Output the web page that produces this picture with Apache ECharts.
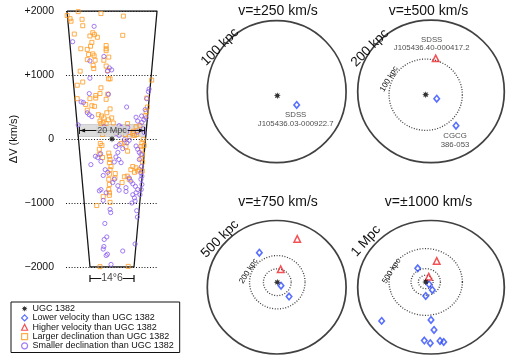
<!DOCTYPE html>
<html><head><meta charset="utf-8">
<script src="https://cdn.jsdelivr.net/npm/echarts@6/dist/echarts.min.js"></script>
<style>html,body{margin:0;padding:0;background:#fff}#c{width:509px;height:360px}</style>
</head><body><div id="c"></div>
<script>
// ---------------- DATA ----------------
const yTicks = [-2000, -1000, 0, 1000, 2000];
const yTickLabels = ['−2000', '−1000', '0', '+1000', '+2000'];
// wedge outline (x in Mpc, ΔV in km/s)
const wedgeX = [-13.85, 13.85, 6.77, -6.77, -13.85];
const wedgeV = [2000, 2000, -2000, -2000, 2000];
const wedgeUGC = [0, 0];
// larger declination than UGC 1382 (orange squares) [x Mpc, ΔV km/s]
const largerDec = [[-13.8,1930],[-12.9,1880],[-12.6,1840],[-10.4,1990],[-3.4,1960],[3.5,1920],[-9.2,1870],[-9.0,1770],[-11.6,1640],[-5.9,1660],[-6.8,1610],[-5.4,1630],[-4.5,1590],[3.3,1620],[-6.2,1510],[-6.6,1450],[-1.8,1460],[-1.8,1410],[-1.8,1380],[-9.6,1410],[-7.6,1400],[-7.2,1320],[-5.9,1330],[-5.5,1300],[-1.0,1280],[-7.6,1240],[-5.2,1230],[-2.5,1230],[-5.8,1150],[-5.6,1100],[-1.8,1140],[-1.3,1070],[-9.8,1060],[-1.1,940],[-0.6,940],[-9.0,890],[-10.7,840],[12.2,920],[-3.4,800],[-3.7,710],[-5.0,680],[-5.0,640],[-1.3,700],[-10.7,630],[-6.8,630],[-1.8,620],[-8.1,540],[-6.2,520],[-5.4,510],[-0.6,470],[-7.6,450],[10.7,640],[10.9,500],[10.5,430],[10.2,360],[-4.2,380],[-3.2,360],[-2.5,330],[-1.6,410],[-1.1,300],[-0.1,330],[-3.7,280],[0.4,250],[-2.7,260],[-1.8,240],[6.6,120],[7.6,70],[-3.4,240],[4.8,240],[7.4,190],[8.6,210],[4.1,70],[5.3,40],[6.4,90],[6.9,55],[9.6,-10],[9.2,-60],[9.9,-100],[8.9,-120],[-3.6,-70],[-3.1,-100],[-3.9,-160],[-2.9,70],[1.2,100],[3.8,-50],[4.3,-120],[4.8,-190],[2.8,-70],[-1.0,-220],[-0.8,-270],[-0.6,-320],[-0.8,-370],[-0.3,-430],[-0.6,-480],[-0.8,-550],[-1.0,-630],[-0.8,-710],[-1.0,-790],[-0.8,-840],[-3.9,-240],[-2.9,-290],[6.4,-430],[7.4,-450],[7.9,-500],[8.4,-480],[6.9,-520],[5.8,-480],[1.0,-540],[3.8,-590],[3.1,-680],[-0.8,-880],[-2.7,-900],[8.9,-310],[9.4,-360],[-4.7,-1040],[-0.6,-990],[-3.7,-1995],[5.0,-1990],[4.7,-580],[5.3,-630],[0.9,-610],[9.3,-500],[9.1,-160],[9.4,-240]];
// smaller declination than UGC 1382 (purple circles)
const smallerDec = [[-5.5,1760],[-12.1,1520],[-0.8,1110],[-0.1,1080],[-1.4,1060],[-2.5,1290],[-6.8,1220],[-6.8,950],[11.4,780],[11.2,740],[-7.0,710],[-1.1,700],[-9.5,580],[-8.8,570],[10.7,630],[4.5,500],[10.2,460],[-7.6,410],[-7.0,380],[-6.2,350],[7.4,340],[9.1,360],[9.8,300],[10.5,330],[-10.4,220],[4.8,180],[7.8,110],[9.6,160],[9.9,100],[7.9,280],[9.2,260],[-2.4,190],[2.2,210],[2.8,180],[1.2,90],[2.2,55],[4.5,110],[3.8,-10],[4.6,-60],[5.3,-20],[2.2,-90],[1.2,-120],[3.3,-150],[7.4,-110],[7.9,-160],[8.4,-210],[8.9,-240],[-5.1,-270],[-4.4,-290],[-6.5,-400],[-3.4,-350],[1.8,-210],[1.2,-280],[2.1,-320],[0.7,-360],[2.8,-370],[-2.1,-480],[-1.3,-520],[-2.7,-570],[5.3,-610],[5.8,-660],[6.4,-700],[7.2,-740],[7.9,-790],[-3.4,-790],[-3.9,-810],[1.8,-730],[2.2,-800],[0.7,-630],[0.2,-680],[8.9,-530],[8.9,-630],[9.2,-710],[6.4,-870],[6.9,-920],[7.4,-840],[4.3,-820],[-1.8,-840],[-2.7,-960],[-0.6,-1100],[-0.4,-1150],[-2.2,-1320],[-1.6,-1530],[-2.4,-1570],[-2.5,-1680],[-2.7,-1720],[-1.4,-1800],[-1.8,-1820],[-0.3,-1960],[7.1,-1640],[3.3,-1750],[7.6,-1120],[7.8,-1220],[7.1,-970],[6.1,-1000],[4.3,-760],[9.0,-790],[8.6,-870],[-3.5,-230],[8.4,-320],[9.1,-430],[9.2,-580]];
// scale bars in the wedge
const scaleMpc = 20, scaleV = 133, scaleBoxV = [39, 227];
const angBarX = 6.77, angBarV = -2180, angGapX = 3.3, angLabel = '14°6';

// ---- right-hand panels (offsets in kpc from panel centre) ----
const panelTitles = ['v=±250 km/s', 'v=±500 km/s', 'v=±750 km/s', 'v=±1000 km/s'];
const panelRadius = [100, 200, 500, 1000];
const panelRadiusLabel = ['100 kpc', '200 kpc', '500 kpc', '1 Mpc'];
const ringKpc = [[], [100], [100, 200], [100, 200, 500]];
const ringLabel = ['', '100 kpc', '200 kpc', '500 kpc'];
const ugcPos = [[0.9,-5.6], [-14.5,-9.3], [4.3,37.4], [-72,79]];
const lowerVel = [
  [[28.8,-18.7]],
  [[15.6,-20.5],[68.2,-96.2]],
  [[-125,259],[31,12],[89,-70]],
  [[-181,284],[-27,45],[18,-40],[-72,-130],[0,-490],[41,-639],[-673,-504],[-91,-799],[-10,-838],[123,-804],[173,-819]]
];
const lowerVelNames = [['SDSS\nJ105436.03-000922.7'], ['', 'CGCG\n386-053'], [], []];
const higherVel = [[], [[12.8,92.8]], [[148,362],[29,135]], [[78,394],[-31,159]]];
const higherVelNames = [[], ['SDSS\nJ105436.40-000417.2'], [], []];
const legendNames = ['UGC 1382', 'Lower velocity than UGC 1382', 'Higher velocity than UGC 1382', 'Larger declination than UGC 1382', 'Smaller declination than UGC 1382'];

// ---------------- STYLE / LAYOUT ----------------
const FONT = '"Liberation Sans", Arial, Helvetica, sans-serif';
const ORANGE = '#ff9a1f', PURPLE = '#8a5cf2', BLUE = '#2f4cff', RED = '#f0262a', INK = '#111';
const STAR = 'path://M20,10 L14.62,11.91 L17.07,17.07 L11.91,14.62 L10,20 L8.09,14.62 L2.93,17.07 L5.38,11.91 L0,10 L5.38,8.09 L2.93,2.93 L8.09,5.38 L10,0 L11.91,5.38 L17.07,2.93 L14.62,8.09 Z';
const ARROW_L = 'path://M0,0 L1.2,0 L1.2,10 L0,10 Z M1.2,5 L8,2 L8,8 Z';
const ARROW_R = 'path://M8,0 L6.8,0 L6.8,10 L8,10 Z M6.8,5 L0,2 L0,8 Z';
const wedgeBox = {left: 66, top: 11, width: 92, height: 256};
const panelBox = [
  {left: 207.3, top: 20.7, width: 138.8, height: 142},
  {left: 357.7, top: 20.1, width: 146.6, height: 142.6},
  {left: 207.3, top: 220.5, width: 138.8, height: 133.5},
  {left: 357.7, top: 220.5, width: 146.6, height: 133.5}
];
const titlePos = [[278, 11], [428.5, 11], [278, 202], [428.5, 202]];
const bigLabelPos = [[220, 47, 45], [370, 48, 45], [220, 239, 45], [366, 241, 48]];
const smallLabelPos = [null, [389, 79, 59], [248.5, 271, 58], [391.5, 271, 58]];

const grid = [Object.assign({}, wedgeBox)].concat(panelBox.map(b => Object.assign({}, b)));
const xAxis = [{gridIndex: 0, type: 'value', min: -14.15, max: 14.15, show: false}];
const yAxis = [{
  gridIndex: 0, type: 'value', min: -2000, max: 2000, interval: 1000,
  name: 'ΔV (km/s)', nameLocation: 'middle', nameGap: 47, nameRotate: 90,
  nameTextStyle: {fontFamily: FONT, fontSize: 11, color: INK},
  axisLine: {show: false}, axisTick: {show: false},
  axisLabel: {margin: 12, fontFamily: FONT, fontSize: 10.5, color: INK,
    formatter: v => yTickLabels[yTicks.indexOf(v)]},
  splitLine: {show: true, lineStyle: {color: '#111', width: 1.1, type: [1, 1.8]}}
}];
panelRadius.forEach((R, i) => {
  xAxis.push({gridIndex: i + 1, type: 'value', min: -R, max: R, show: false});
  yAxis.push({gridIndex: i + 1, type: 'value', min: -R, max: R, show: false});
});

const hollow = (c, w) => ({color: 'rgba(0,0,0,0)', borderColor: c, borderWidth: w});
const series = [];
// wedge
series.push({type: 'line', name: 'wedge', xAxisIndex: 0, yAxisIndex: 0,
  data: wedgeX.map((x, i) => [x, wedgeV[i]]), symbol: 'none', silent: true,
  lineStyle: {color: '#181818', width: 1.3}, z: 3});
series.push({type: 'scatter', name: legendNames[3], xAxisIndex: 0, yAxisIndex: 0, data: largerDec,
  symbol: 'rect', symbolSize: 4, itemStyle: hollow(ORANGE, 1), z: 4});
series.push({type: 'scatter', name: legendNames[4], xAxisIndex: 0, yAxisIndex: 0, data: smallerDec,
  symbol: 'circle', symbolSize: 4.2, itemStyle: hollow(PURPLE, 1), z: 4});
series.push({type: 'scatter', name: legendNames[0], xAxisIndex: 0, yAxisIndex: 0, data: [wedgeUGC],
  symbol: STAR, symbolSize: 7, itemStyle: {color: '#000'}, z: 6});
// 20 Mpc scale bar
series.push({type: 'line', name: 'scale', xAxisIndex: 0, yAxisIndex: 0, clip: false, silent: true,
  data: [{value: [-scaleMpc / 2, scaleV], symbol: ARROW_L, symbolOffset: [2.6, 0]},
         {value: [scaleMpc / 2, scaleV], symbol: ARROW_R, symbolOffset: [-2.6, 0]}],
  symbolSize: [6, 7], lineStyle: {color: INK, width: 1}, itemStyle: {color: INK}, z: 8,
  markArea: {silent: true, itemStyle: {color: 'rgba(212,212,212,0.78)', borderColor: 'rgba(170,170,170,0.8)', borderWidth: 0.6},
    data: [[{coord: [-10.6, scaleBoxV[0]]}, {coord: [10.6, scaleBoxV[1]]}]]}});
series.push({type: 'scatter', name: 'scaleLabel', xAxisIndex: 0, yAxisIndex: 0, data: [[0, scaleV]],
  symbolSize: 1, itemStyle: {color: 'rgba(0,0,0,0)'}, silent: true, z: 9,
  label: {show: true, position: 'inside', formatter: scaleMpc + ' Mpc', fontFamily: FONT, fontSize: 9, color: '#222',
    backgroundColor: 'rgb(214,214,214)', padding: [0, 1]}});
// angular bar
[[-angBarX, -angGapX], [angGapX, angBarX]].forEach((seg, k) => {
  series.push({type: 'line', name: 'ang' + k, xAxisIndex: 0, yAxisIndex: 0, clip: false, silent: true,
    data: [{value: [seg[0], angBarV], symbol: k === 0 ? 'rect' : 'none'},
           {value: [seg[1], angBarV], symbol: k === 1 ? 'rect' : 'none'}],
    symbolSize: [1.2, 7], lineStyle: {color: INK, width: 1}, itemStyle: {color: INK}});
});
series.push({type: 'scatter', name: 'angLabel', xAxisIndex: 0, yAxisIndex: 0, data: [[0, angBarV]], clip: false,
  symbolSize: 1, itemStyle: {color: 'rgba(0,0,0,0)'}, silent: true,
  label: {show: true, position: 'inside', formatter: angLabel, fontFamily: FONT, fontSize: 10.5, color: INK}});

// panels
const galLabel = (pos, off) => ({show: true, position: pos, distance: 2, offset: off || [0, 0],
  fontFamily: FONT, fontSize: 7.8, lineHeight: 8.5, color: '#1a1a1a', align: 'center'});
panelRadius.forEach((R, p) => {
  const b = panelBox[p], ax = p + 1;
  series.push({type: 'scatter', name: 'outer' + p, xAxisIndex: ax, yAxisIndex: ax, data: [[0, 0]], silent: true,
    symbol: 'circle', symbolSize: [b.width, b.height], itemStyle: hollow('#111', 1.7), z: 2});
  ringKpc[p].forEach((k, j) => {
    series.push({type: 'scatter', name: 'ring' + p + '_' + j, xAxisIndex: ax, yAxisIndex: ax, data: [ugcPos[p]], silent: true,
      symbol: 'circle', symbolSize: [b.width * k / R, b.height * k / R],
      itemStyle: {color: 'rgba(0,0,0,0)', borderColor: '#111', borderWidth: 1.3, borderType: [1, 1.6]}, z: 2});
  });
  series.push({type: 'scatter', name: legendNames[1], xAxisIndex: ax, yAxisIndex: ax,
    data: lowerVel[p].map((d, i) => {
      const n = (lowerVelNames[p][i] || '');
      return n ? {value: d, label: galLabel('bottom', [-1, 0]), name: n} : {value: d};
    }),
    symbol: 'diamond', symbolSize: [5.5, 6.5], itemStyle: hollow(BLUE, 1.6), z: 5,
    label: {show: false, formatter: '{b}'}});
  series.push({type: 'scatter', name: legendNames[2], xAxisIndex: ax, yAxisIndex: ax,
    data: higherVel[p].map((d, i) => {
      const n = (higherVelNames[p][i] || '');
      return n ? {value: d, label: galLabel('top', [-4, 0]), name: n} : {value: d};
    }),
    symbol: 'triangle', symbolSize: 6.5, itemStyle: hollow(RED, 1.5), z: 5,
    label: {show: false, formatter: '{b}'}});
  series.push({type: 'scatter', name: legendNames[0], xAxisIndex: ax, yAxisIndex: ax, data: [ugcPos[p]],
    symbol: STAR, symbolSize: 7, itemStyle: {color: '#000'}, z: 6});
});

// text annotations
const graphic = [];
panelTitles.forEach((t, p) => {
  graphic.push({type: 'text', x: titlePos[p][0], y: titlePos[p][1], silent: true,
    style: {text: t, font: '14px ' + FONT, fill: INK, textAlign: 'center', textVerticalAlign: 'middle'}});
  const bl = bigLabelPos[p];
  graphic.push({type: 'text', x: bl[0], y: bl[1], rotation: bl[2] * Math.PI / 180, silent: true,
    style: {text: panelRadiusLabel[p], font: '13.5px ' + FONT, fill: INK, textAlign: 'center', textVerticalAlign: 'middle'}});
  const sl = smallLabelPos[p];
  if (sl) graphic.push({type: 'text', x: sl[0], y: sl[1], rotation: sl[2] * Math.PI / 180, silent: true,
    style: {text: ringLabel[p], font: '8px ' + FONT, fill: INK, textAlign: 'center', textVerticalAlign: 'middle'}});
});

const legendIcons = [STAR, 'diamond', 'triangle', 'rect', 'circle'];
const legendColors = ['#000', BLUE, RED, ORANGE, PURPLE];
const option = {
  animation: false,
  backgroundColor: '#fff',
  grid, xAxis, yAxis, series, graphic,
  legend: {
    left: 11, top: 302, orient: 'vertical', selectedMode: false,
    borderColor: '#111', borderWidth: 1, borderRadius: 0, padding: [2, 6, 2, 10],
    itemWidth: 6, itemHeight: 6, itemGap: 0,
    textStyle: {fontFamily: FONT, fontSize: 9, color: INK, lineHeight: 9.3},
    data: legendNames.map((n, i) => ({name: n, icon: legendIcons[i],
      itemStyle: i === 0 ? {color: '#000', borderWidth: 0} : {color: 'rgba(0,0,0,0)', borderColor: legendColors[i], borderWidth: 1.2}}))
  }
};
const chart = echarts.init(document.getElementById('c'), null, {renderer: 'canvas'});
chart.setOption(option);
</script>
</body></html>
